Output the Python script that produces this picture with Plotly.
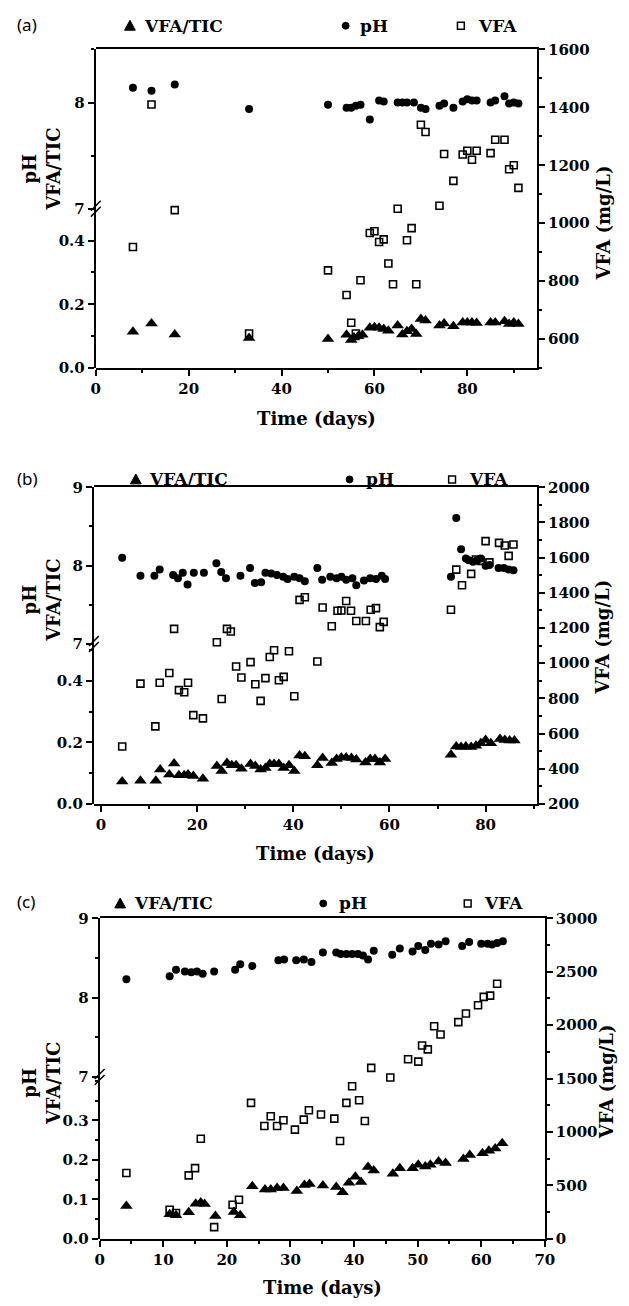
import plotly.graph_objects as go

FIG_W, FIG_H = 629, 1306

# ---------------- data ----------------
# Panel (a)
a_ratio_day = [8, 12, 17, 33, 50, 54, 55, 55.6, 56.5, 57.4, 59, 60, 61, 62, 63, 65, 66, 67, 68, 69,
               70, 71, 74, 75, 77, 79, 80, 81, 82, 85, 86, 88, 89, 90, 91]
a_ratio = [0.114, 0.140, 0.105, 0.094, 0.091, 0.104, 0.088, 0.096, 0.100, 0.104, 0.126, 0.128, 0.126,
           0.122, 0.117, 0.133, 0.105, 0.115, 0.122, 0.107, 0.154, 0.149, 0.133, 0.140, 0.131, 0.143,
           0.143, 0.143, 0.141, 0.143, 0.143, 0.147, 0.138, 0.143, 0.138]
a_ph_day = [8, 12, 17, 33, 50, 54, 55, 56, 57, 59, 61, 62, 65, 66, 67, 68.5, 70, 71, 74, 75, 77,
            79, 80, 81, 82, 85, 86, 88, 89, 90, 91]
a_ph = [8.14, 8.11, 8.17, 7.94, 7.98, 7.95, 7.95, 7.97, 7.98, 7.84, 8.02, 8.01, 8.00, 8.00, 8.00,
        8.00, 7.95, 7.94, 7.97, 7.99, 7.95, 8.01, 8.03, 8.02, 8.02, 8.00, 8.02, 8.06, 7.99, 8.00, 7.99]
a_vfa_day = [8, 12, 17, 33, 50, 54, 55, 56, 57, 59, 60, 61, 62, 63, 64, 65, 67, 68, 69, 70, 71,
             74, 75, 77, 79, 80, 81, 82, 85, 86, 88, 89, 90, 91]
a_vfa = [918, 1410, 1045, 619, 837, 752, 656, 619, 803, 966, 972, 935, 944, 861, 789, 1050, 941,
         983, 789, 1340, 1315, 1060, 1239, 1146, 1237, 1250, 1219, 1250, 1242, 1288, 1288, 1186,
         1200, 1122]

# Panel (b)
b_ratio_day = [4.4, 8.2, 11.4, 12.3, 14.2, 15.2, 16.2, 17.3, 18.1, 19.2, 21.2, 24.1, 25.1, 26.2,
               27.2, 28.1, 29.2, 31.1, 32.1, 33.2, 34.2, 35.1, 36, 37, 38, 39.1, 40.2, 41.3, 42.4,
               45, 46.1, 48, 49, 50, 51, 52.1, 53.1, 55, 56, 57, 58, 59.1, 72.8, 73.9, 74.9, 75.9,
               77, 78, 79, 80, 81.1, 83, 84, 85, 86]
b_ratio = [0.073, 0.075, 0.075, 0.112, 0.096, 0.131, 0.093, 0.093, 0.096, 0.091, 0.082, 0.123,
           0.107, 0.133, 0.126, 0.126, 0.114, 0.130, 0.123, 0.112, 0.117, 0.130, 0.130, 0.130,
           0.117, 0.126, 0.107, 0.157, 0.155, 0.126, 0.149, 0.133, 0.146, 0.151, 0.151, 0.149,
           0.144, 0.135, 0.146, 0.146, 0.135, 0.146, 0.160, 0.187, 0.185, 0.187, 0.185, 0.189,
           0.197, 0.208, 0.197, 0.211, 0.208, 0.206, 0.206]
b_ph_day = [4.4, 8.2, 11.1, 12.2, 15, 16, 17, 18, 19.3, 21.4, 24, 25, 26, 29, 31, 32, 33.3, 34.2,
            35.4, 36.6, 37.9, 38.8, 40.2, 41.3, 42.4, 45, 46, 47.7, 49, 50, 51, 52.3, 53.1, 54.7,
            56, 57.2, 58.4, 59.1, 72.8, 73.9, 74.9, 75.9, 76.5, 77.4, 78.2, 79, 80, 80.8, 82.7,
            83.8, 84.8, 85.8]
b_ph = [8.10, 7.87, 7.87, 7.95, 7.88, 7.84, 7.91, 7.76, 7.91, 7.91, 8.03, 7.92, 7.84, 7.87, 7.97,
        7.78, 7.79, 7.91, 7.90, 7.88, 7.86, 7.83, 7.86, 7.84, 7.80, 7.97, 7.82, 7.86, 7.84, 7.86,
        7.82, 7.84, 7.75, 7.81, 7.84, 7.83, 7.87, 7.83, 7.86, 8.61, 8.21, 8.09, 8.07, 8.05, 8.07,
        8.09, 8.00, 8.01, 7.97, 7.97, 7.95, 7.94]
b_vfa_day = [4.4, 8.2, 11.3, 12.2, 14.2, 15.2, 16.2, 17.3, 18.1, 19.2, 21.2, 24.1, 25.1, 26.2, 27,
             28.1, 29.2, 31.1, 32.1, 33.2, 34.2, 35.1, 36, 37, 38, 39.1, 40.2, 41.3, 42.4, 45,
             46.1, 48, 49.2, 50, 51, 52, 53.1, 55.1, 56.1, 57.2, 58, 58.8, 72.8, 73.9, 75.1, 77,
             78, 79, 80, 80.8, 82.8, 84, 84.8, 85.8]
b_vfa = [526, 884, 641, 889, 944, 1195, 847, 835, 889, 705, 686, 1119, 796, 1195, 1180, 981, 919,
         1006, 880, 786, 915, 1035, 1074, 903, 922, 1068, 812, 1360, 1375, 1010, 1317, 1210, 1298,
         1300, 1354, 1298, 1240, 1240, 1304, 1313, 1205, 1235, 1304, 1532, 1443, 1508, 1590, 1582,
         1694, 1573, 1684, 1669, 1610, 1675]

# Panel (c)
c_ratio_day = [4.2, 11, 12, 14, 15.1, 15.9, 16.5, 18.2, 21.1, 22.1, 24, 26, 26.9, 27.9, 28.9, 31,
               32.2, 33, 35.1, 37.2, 38.2, 39.2, 40.2, 41.1, 42.2, 43.1, 46.1, 47.2, 49.2, 50.1,
               51.2, 52, 53.3, 54.4, 57.2, 58.2, 60.2, 61.2, 62.2, 63.3]
c_ratio = [0.083, 0.062, 0.060, 0.067, 0.089, 0.092, 0.088, 0.058, 0.068, 0.060, 0.133, 0.125,
           0.125, 0.129, 0.129, 0.121, 0.136, 0.139, 0.135, 0.131, 0.118, 0.142, 0.157, 0.144,
           0.182, 0.173, 0.165, 0.179, 0.179, 0.1875, 0.183, 0.1875, 0.196, 0.192, 0.202, 0.2125,
           0.217, 0.223, 0.229, 0.242]
c_ph_day = [4.2, 11, 12, 13.4, 14.4, 15.3, 16.2, 18, 21.3, 22.1, 24, 28.1, 29, 30.9, 32.1, 33.3,
            35.1, 37.2, 37.9, 38.8, 39.7, 40.6, 41.4, 42.2, 43.1, 46, 47.2, 49.2, 50.1, 51.2, 52.1,
            53.3, 54.4, 57, 58.1, 60, 61, 61.7, 62.5, 63.4]
c_ph = [8.23, 8.27, 8.35, 8.33, 8.32, 8.33, 8.30, 8.33, 8.35, 8.42, 8.40, 8.47, 8.48, 8.47, 8.48,
        8.45, 8.57, 8.57, 8.55, 8.55, 8.55, 8.55, 8.53, 8.48, 8.59, 8.54, 8.62, 8.58, 8.65, 8.60,
        8.68, 8.67, 8.71, 8.65, 8.70, 8.68, 8.68, 8.67, 8.69, 8.71]
c_vfa_day = [4.2, 11, 12, 14, 15, 15.9, 18, 20.9, 21.9, 23.8, 25.9, 26.9, 27.9, 28.9, 30.7, 32.1,
             32.9, 34.8, 36.9, 37.8, 38.8, 39.7, 40.8, 41.7, 42.7, 45.7, 48.5, 50.1, 50.7, 51.6,
             52.6, 53.6, 56.4, 57.6, 59.5, 60.4, 61.4, 62.5]
c_vfa = [616, 272, 241, 594, 662, 937, 109, 319, 366, 1272, 1056, 1147, 1056, 1109, 1022, 1116,
         1203, 1163, 1125, 916, 1272, 1428, 1297, 1103, 1600, 1510, 1680, 1658, 1810, 1773, 1990,
         1913, 2028, 2109, 2186, 2264, 2276, 2388]

# left-axis (lower segment) tick values for each panel
a_ratio_ticks = [0.0, 0.2, 0.4]
b_ratio_ticks = [0.0, 0.2, 0.4]
c_ratio_ticks = [0.0, 0.1, 0.2, 0.3]

legend_names = ["VFA/TIC", "pH", "VFA"]
panel_labels = ["(a)", "(b)", "(c)"]
x_title = "Time (days)"
left_title = "pH<br>VFA/TIC"
right_title = "VFA (mg/L)"

# ---------------- layout geometry (pixels) ----------------
panels = [
    dict(ratio=(a_ratio_day, a_ratio), ph=(a_ph_day, a_ph), vfa=(a_vfa_day, a_vfa),
         left=93, right=545, top=41, bottom=364, split=0.5,
         xr=[0, 95], xd=20, xm=10,
         lr=[0, 0.5], lt=a_ratio_ticks, lm=0.1,
         ur=[7, 8.5], ud=1, um=0.5,
         vr=[500, 1600], vd=200, vm=100,
         lab_y=16, leg_y=17, leg_x=[128, 140, 349, 362, 467, 482],
         ltitle_y=163, rtitle=(613, 217), xtitle_y=415),
    dict(ratio=(b_ratio_day, b_ratio), ph=(b_ph_day, b_ph), vfa=(b_vfa_day, b_vfa),
         left=91, right=545, top=485, bottom=806, split=0.505,
         xr=[-1.5, 90.7], xd=20, xm=10,
         lr=[0, 0.52], lt=b_ratio_ticks, lm=0.1,
         ur=[7, 9], ud=1, um=0.5,
         vr=[200, 2000], vd=200, vm=100,
         lab_y=476, leg_y=477, leg_x=[134, 145, 353, 368, 458, 473],
         ltitle_y=600, rtitle=(612, 637), xtitle_y=856),
    dict(ratio=(c_ratio_day, c_ratio), ph=(c_ph_day, c_ph), vfa=(c_vfa_day, c_vfa),
         left=97, right=553, top=922, bottom=1247, split=0.505,
         xr=[0, 70], xd=10, xm=5,
         lr=[0, 0.41], lt=c_ratio_ticks, lm=0.05,
         ur=[7, 9], ud=1, um=0.5,
         vr=[0, 3000], vd=500, vm=250,
         lab_y=905, leg_y=907, leg_x=[118, 130, 326, 340, 474, 489],
         ltitle_y=1090, rtitle=(616, 1088), xtitle_y=1296),
]

SERIF = "DejaVu Serif"
tick_font = dict(family=SERIF, size=15, color="black", weight="bold")
title_font = dict(family=SERIF, size=18, color="black", weight="bold")
legend_font = dict(family=SERIF, size=17, color="black", weight="bold")


def px_x(v):
    return v / FIG_W


def px_y(v):
    return 1 - v / FIG_H


fig = go.Figure()
layout = {}
annotations = []
shapes = []

for i, p in enumerate(panels, start=1):
    xa = "x" if i == 1 else f"x{i}"
    lo, up, vf = 3 * (i - 1) + 1, 3 * (i - 1) + 2, 3 * (i - 1) + 3
    ylo = "y" if lo == 1 else f"y{lo}"
    yup, yvf = f"y{up}", f"y{vf}"

    x0, x1 = px_x(p["left"]), px_x(p["right"])
    yb, yt = px_y(p["bottom"]), px_y(p["top"])
    ys = yb + p["split"] * (yt - yb)

    fig.add_trace(go.Scatter(x=p["ratio"][0], y=p["ratio"][1], mode="markers",
                             name=legend_names[0], xaxis=xa, yaxis=ylo, showlegend=False,
                             marker=dict(symbol="triangle-up", size=11, color="black")))
    fig.add_trace(go.Scatter(x=p["ph"][0], y=p["ph"][1], mode="markers",
                             name=legend_names[1], xaxis=xa, yaxis=yup, showlegend=False,
                             marker=dict(symbol="circle", size=8, color="black")))
    fig.add_trace(go.Scatter(x=p["vfa"][0], y=p["vfa"][1], mode="markers",
                             name=legend_names[2], xaxis=xa, yaxis=yvf, showlegend=False,
                             marker=dict(symbol="square-open", size=7, color="black",
                                         line=dict(width=1.6, color="black"))))

    common = dict(showline=True, linecolor="black", linewidth=2, ticks="outside",
                  ticklen=6, tickwidth=2, tickcolor="black", showgrid=False,
                  zeroline=False, tickfont=tick_font)
    minor_common = dict(ticks="outside", ticklen=3, tickwidth=1.5, tickcolor="black",
                        showgrid=False, tick0=0)
    layout["xaxis" if i == 1 else f"xaxis{i}"] = dict(
        domain=[x0, x1], range=p["xr"], dtick=p["xd"], tick0=0, anchor=yvf, mirror=True,
        minor=dict(dtick=p["xm"], **minor_common), **common)
    layout["yaxis" if lo == 1 else f"yaxis{lo}"] = dict(
        domain=[yb, ys], range=p["lr"], tickmode="array", tickvals=p["lt"],
        ticktext=[f"{v:.1f}" for v in p["lt"]], anchor=xa, side="left",
        minor=dict(dtick=p["lm"], tickmode="linear", **minor_common), **common)
    layout[f"yaxis{up}"] = dict(
        domain=[ys, yt], range=p["ur"], dtick=p["ud"], tick0=0, anchor=xa, side="left",
        minor=dict(dtick=p["um"], **minor_common), **common)
    layout[f"yaxis{vf}"] = dict(
        domain=[yb, yt], range=p["vr"], dtick=p["vd"], tick0=0, anchor=xa, side="right",
        minor=dict(dtick=p["vm"], **minor_common), **common)

    # axis-break mark: two short slanted strokes across the left axis
    ddx, ddy = px_x(5), 5 / FIG_H
    for off in (-3, 3):
        oy = off / FIG_H
        shapes.append(dict(type="line", xref="paper", yref="paper",
                           x0=x0 - ddx, y0=ys + oy - ddy, x1=x0 + ddx, y1=ys + oy + ddy,
                           line=dict(color="black", width=1.5), layer="above"))
    # panel label
    annotations.append(dict(x=px_x(10), y=px_y(p["lab_y"]), xref="paper", yref="paper",
                            text=panel_labels[i - 1], showarrow=False, xanchor="left",
                            yanchor="middle",
                            font=dict(family="Noto Sans", size=17, color="black")))
    # legend row: key symbols drawn as small shapes, names as text
    lx = p["leg_x"]
    cy = px_y(p["leg_y"])
    hy = 4.5 / FIG_H
    tx = px_x(lx[0])
    shapes.append(dict(type="path", xref="paper", yref="paper",
                       path=f"M {tx - px_x(5.5)} {cy - hy} L {tx + px_x(5.5)} {cy - hy} "
                            f"L {tx} {cy + 5.5 / FIG_H} Z",
                       fillcolor="black", line=dict(color="black", width=1)))
    dx_ = px_x(lx[2])
    shapes.append(dict(type="circle", xref="paper", yref="paper",
                       x0=dx_ - px_x(3.5), x1=dx_ + px_x(3.5),
                       y0=cy - 3.5 / FIG_H, y1=cy + 3.5 / FIG_H,
                       fillcolor="black", line=dict(color="black", width=1)))
    sx = px_x(lx[4])
    shapes.append(dict(type="rect", xref="paper", yref="paper",
                       x0=sx - px_x(3.5), x1=sx + px_x(3.5),
                       y0=cy - 3.5 / FIG_H, y1=cy + 3.5 / FIG_H,
                       fillcolor="white", line=dict(color="black", width=1.5)))
    for k in range(3):
        annotations.append(dict(x=px_x(lx[2 * k + 1]), y=cy, xref="paper",
                                yref="paper", text=legend_names[k], showarrow=False,
                                xanchor="left", yanchor="middle", font=legend_font))
    # titles
    annotations.append(dict(x=px_x(37), y=px_y(p["ltitle_y"]), xref="paper", yref="paper",
                            text=left_title, showarrow=False, textangle=-90,
                            xanchor="center", yanchor="middle", font=title_font))
    annotations.append(dict(x=px_x(p["rtitle"][0]), y=px_y(p["rtitle"][1]), xref="paper",
                            yref="paper", text=right_title, showarrow=False, textangle=-90,
                            xanchor="center", yanchor="middle", font=title_font))
    annotations.append(dict(x=(x0 + x1) / 2, y=px_y(p["xtitle_y"]), xref="paper",
                            yref="paper", text=x_title, showarrow=False,
                            xanchor="center", yanchor="middle", font=title_font))

fig.update_layout(width=FIG_W, height=FIG_H, autosize=False,
                  margin=dict(l=0, r=0, t=0, b=0),
                  paper_bgcolor="white", plot_bgcolor="rgba(0,0,0,0)",
                  showlegend=False, annotations=annotations, shapes=shapes, **layout)

fig.write_html("out.html")
